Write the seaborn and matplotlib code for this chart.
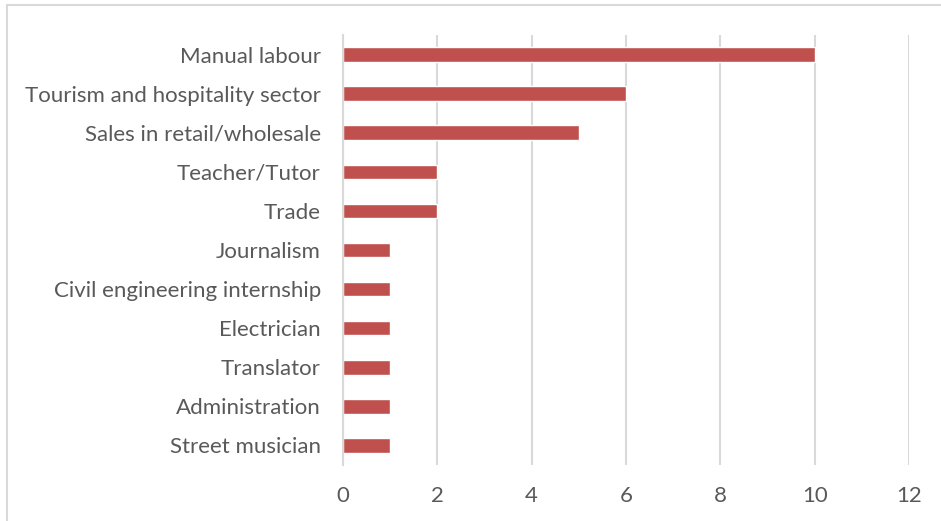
import matplotlib
matplotlib.use("Agg")
import matplotlib.pyplot as plt
import seaborn as sns
import pandas as pd
from matplotlib.patches import Rectangle

categories = [
    "Manual labour",
    "Tourism and hospitality sector",
    "Sales in retail/wholesale",
    "Teacher/Tutor",
    "Trade",
    "Journalism",
    "Civil engineering internship",
    "Electrician",
    "Translator",
    "Administration",
    "Street musician",
]
counts = [10, 6, 5, 2, 2, 1, 1, 1, 1, 1, 1]
x_ticks = [0, 2, 4, 6, 8, 10, 12]

sns.set_theme(style="white")
plt.rcParams["font.family"] = ["Lato", "DejaVu Sans"]

df = pd.DataFrame({"job": categories, "count": counts})

W, H = 941, 521
fig = plt.figure(figsize=(W / 100, H / 100), dpi=100)
ax = fig.add_axes([343 / W, 1 - 465 / H, (909 - 343) / W, (465 - 35) / H])

sns.barplot(data=df, x="count", y="job", color="#C0504D", saturation=1,
            width=0.37, ax=ax, orient="h")

ax.set_xlim(0, 12)
ax.set_xticks(x_ticks)
ax.set_xlabel("")
ax.set_ylabel("")
ax.grid(axis="x", color="#D9D9D9", linewidth=1.5)
ax.set_axisbelow(True)
for s in ["top", "right", "bottom"]:
    ax.spines[s].set_visible(False)
ax.spines["left"].set_color("#D9D9D9")
ax.spines["left"].set_linewidth(1.5)
ax.tick_params(axis="both", length=0, labelsize=16, colors="#595959")
ax.tick_params(axis="y", pad=16)
ax.tick_params(axis="x", pad=15)

# outer frame: only the top and left edges fall inside the canvas
fig.patches.append(Rectangle((7 / W, -20 / H), (960 - 7) / W, (516 + 20) / H,
                             transform=fig.transFigure, fill=False,
                             edgecolor="#D9D9D9", linewidth=1.5))

fig.savefig("out.png", dpi=100, facecolor="white")
